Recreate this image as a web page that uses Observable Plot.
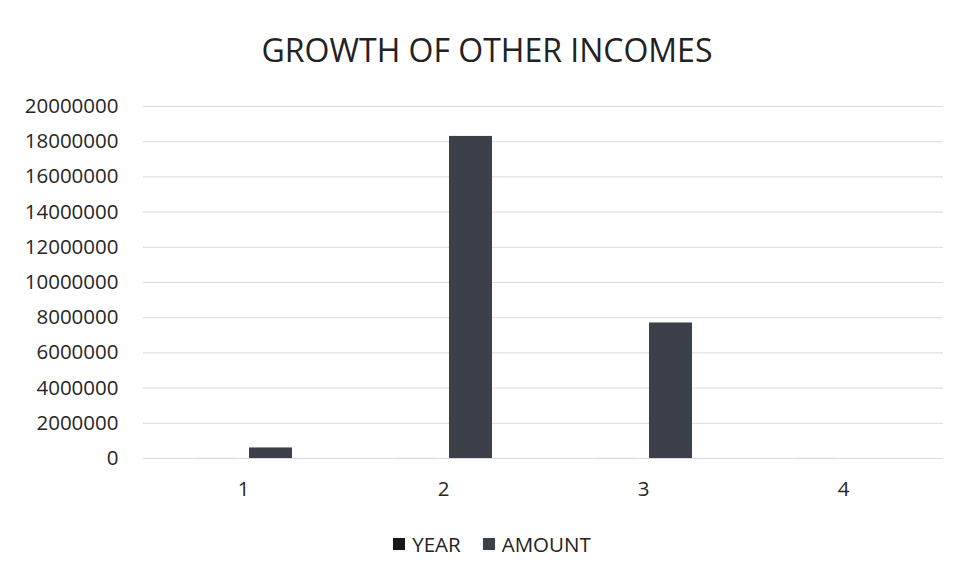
<!DOCTYPE html>
<html>
<head>
<meta charset="utf-8">
<script src="https://cdn.jsdelivr.net/npm/d3@7"></script>
<script src="https://cdn.jsdelivr.net/npm/@observablehq/plot@0.6"></script>
<style>
  html, body { margin: 0; padding: 0; background: #fff; }
  body { width: 956px; height: 578px; overflow: hidden; font-family: "Open Sans", sans-serif; }
  #title { box-sizing: border-box; height: 80px; padding-top: 30px; text-align: center; font-size: 32px; line-height: 40px; color: #222; }
  #title span { position: relative; left: 9px; }
  #legend { text-align: center; font-size: 20.5px; color: #222; margin-top: 20px; position: relative; left: 14px; }
  #legend .item { display: inline-flex; align-items: center; margin: 0 11px; }
  #legend .sw { width: 12px; height: 12px; display: inline-block; margin-right: 7px; }
</style>
</head>
<body>
<div id="title"><span>GROWTH OF OTHER INCOMES</span></div>
<div id="chart"></div>
<div id="legend"></div>
<script>
const categories = ["1", "2", "3", "4"];
const seriesNames = ["YEAR", "AMOUNT"];
const yearValues = [2015, 2016, 2017, 2018];
const amountValues = [600000, 18300000, 7700000, 0];
const yTicks = [0, 2000000, 4000000, 6000000, 8000000, 10000000, 12000000, 14000000, 16000000, 18000000, 20000000];
const seriesColors = ["#18181a", "#3c4049"];

const data = [];
categories.forEach((c, i) => {
  data.push({category: c, series: "YEAR", value: yearValues[i]});
  data.push({category: c, series: "AMOUNT", value: amountValues[i]});
});

const chart = Plot.plot({
  width: 956,
  height: 428,
  marginLeft: 143,
  marginRight: 13,
  marginTop: 26,
  marginBottom: 50,
  style: {fontFamily: "Open Sans, sans-serif", fontSize: "20.5px", color: "#262626", background: "#fff"},
  fx: {domain: categories, padding: 0, axis: "bottom", tickSize: 0, tickPadding: 23, label: null},
  x: {domain: seriesNames, axis: null, paddingInner: 0.214, paddingOuter: 0.893},
  y: {domain: [0, 20000000], ticks: yTicks, tickFormat: d3.format("d"), tickSize: 0, tickPadding: 25, label: null},
  color: {domain: seriesNames, range: seriesColors},
  marks: [
    Plot.gridY(yTicks, {stroke: "#d9d9e0", strokeOpacity: 1}),
    Plot.barY(data, {fx: "category", x: "series", y: "value", fill: "series"})
  ]
});
document.getElementById("chart").appendChild(chart);

const legend = document.getElementById("legend");
seriesNames.forEach((s, i) => {
  const item = document.createElement("span");
  item.className = "item";
  const sw = document.createElement("span");
  sw.className = "sw";
  sw.style.background = seriesColors[i];
  item.appendChild(sw);
  item.appendChild(document.createTextNode(s));
  legend.appendChild(item);
});
</script>
</body>
</html>
